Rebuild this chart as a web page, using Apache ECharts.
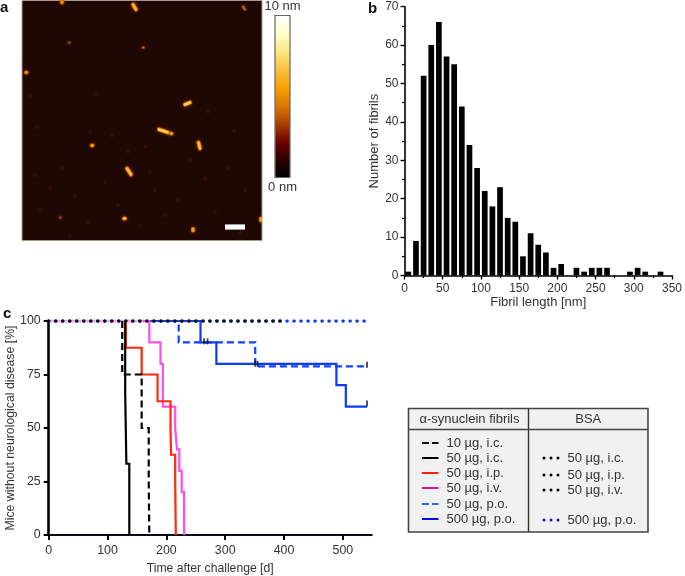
<!DOCTYPE html>
<html><head><meta charset="utf-8">
<style>html,body{margin:0;padding:0;background:#fff}#c{width:685px;height:576px}</style>
<script src="https://cdn.jsdelivr.net/npm/echarts@6/dist/echarts.min.js"></script>
</head><body><div id="c"></div>
<script>
// ---- panel a: AFM image (image px units); [x1,y1,x2,y2,height nm]
var fibrils = [
  [62,0,62,2,5],[133,4,136,9,6.2],[243,6,245,9,4],[69,42,69.5,42,3],[143,47,143.5,47,4.2],
  [26,72,26.5,72,5.2],[185,104,190,102,7.2],[159,129,168,132,7.2],[171,133,171.5,133,5.6],
  [198.5,142,200,148,6.6],[92,145,92.5,145,5.6],[127,168,131,174,6.6],[124,218,125,218,6.6],
  [193,228.5,193,230,5.8],[261,218,261,220,5.6],[60,217,60.5,217,2.8]
];
var scaleBar = [[225,226.5,245,226.5]];
var faintSpecks = [[37,127],[90,132],[112,135],[128,151],[62,167],[208,111],[234,130],[145,146],[30,96],[96,93],
  [50,188],[75,195],[105,182],[118,205],[155,190],[178,200],[205,178],[228,168],[245,190],[40,210],[88,222],[140,225],[165,215],[215,212],[240,232],[70,235],[35,175],[150,172],[190,160]];
var colorStops = ['#000000','#2a0000','#6e0000','#a84000','#d87800','#f8a000','#fcc040','#ffe680','#ffffc8','#ffffff'];
// ---- panel b: histogram
var lengthBins = [5,15,25,35,45,55,65,75,85,95,105,115,125,135,145,155,165,175,185,195,205,225,235,245,255,265,295,305,315,335];
var fibrilCounts = [1,9,52,60,66,57,55,44,34,28,22,18,23,15,14,5,11,8,6,2,3,2,1,2,2,2,1,2,1,1];
// ---- panel c: survival curves, [day, percent] at each event
var dashed10ic = [[125,100],[125,75],[158,50],[170,25],[171,0]];
var solid50ic = [[130,100],[130,66.7],[132,33.3],[137,0]];
var red50ip = [[131,100],[131,87.5],[158,75],[185,62.5],[207,50],[208,37.5],[215,25],[216,0]];
var magenta50iv = [[160,100],[171,90],[190,80],[194,60],[215,50],[218,40],[222,30],[226,20],[230,0]];
var blueDash50po = [[171,100],[221,90],[351,78.8],[541,78.8]];
var blue500po = [[171,100],[258,90],[285,80],[489,70],[505,60],[541,60]];
var bsa500po = [[0,100],[541,100]];
var bsa50 = [[0,100],[400,100]];
var pinkDots = [[0,100],[171,100]];
var censorTicks = [[150,101],[192,101],[400,101],[541,101],[264,90.5],[270,90.5],[351,80],[355,80],[541,79.5],[541,61.5]];
var survivalXTicks = [0,100,200,300,400,500];
// ---- key table
var keyLeftHead = '\u03b1-synuclein fibrils', keyRightHead = 'BSA';
var keyLeft = [
  ['10 \u00b5g, i.c.','#111',[7,3]],['50 \u00b5g, i.c.','#000',null],['50 \u00b5g, i.p.','#ff1a1a',null],
  ['50 \u00b5g, i.v.','#e0108c',null],['50 \u00b5g, p.o.','#2a62ff',[7,3]],['500 \u00b5g, p.o.','#0010ee',null]];
var keyLeftY = [443,458,473,488,504,519];
var keyRight = [['50 \u00b5g, i.c.','#000'],['50 \u00b5g, i.p.','#000'],['50 \u00b5g, i.v.','#000'],['500 \u00b5g, p.o.','#0a14ee']];
var keyRightY = [458,475,490,520];

var FONT = '"Liberation Sans", Arial, sans-serif', GREY = '#333';
function kmSeries(data, color, dash, z){
  return {type:'line', xAxisIndex:2, yAxisIndex:2, data:data, step:'end', symbol:'none', z:z||3, silent:true,
    lineStyle:{color:color, width:2.2, type:dash||'solid', cap:'butt', join:'miter'}};
}
function dotSeries(data, color, z, off){
  return {type:'line', xAxisIndex:2, yAxisIndex:2, data:data, symbol:'none', z:z, silent:true,
    lineStyle:{color:color, width:3.6, type:[0.01,7], dashOffset:off||0, cap:'round'}};
}
var axisCommon = function(){ return {
  axisLine:{show:true, onZero:false, lineStyle:{color:'#000', width:1.6}},
  axisTick:{show:true, length:4, lineStyle:{color:'#000', width:1.4}},
  axisLabel:{color:GREY, fontFamily:FONT, fontSize:12, margin:6},
  splitLine:{show:false},
  nameTextStyle:{color:GREY, fontFamily:FONT, fontSize:13}
};};
function ax(o){ return Object.assign(axisCommon(), o); }

var graphics = [];
function label(t,x,y){ graphics.push({type:'text', x:x, y:y, style:{text:t, fontFamily:FONT, fontWeight:'bold', fontSize:15, fill:'#111', textVerticalAlign:'middle'}}); }
label('a',0,8); label('b',368,9); label('c',3,314);
graphics.push({type:'rect', z:20, shape:{x:275,y:15.5,width:15,height:162}, style:{fill:'none', stroke:'#666', lineWidth:1.2}});
var T = {x0:408.5,y0:408.5,x1:648,y1:532,mid:528.5,head:429.5};
var kw = {fontFamily:FONT, fontSize:13, fill:'#333'};
graphics.push({type:'rect', shape:{x:T.x0,y:T.y0,width:T.x1-T.x0,height:T.y1-T.y0}, style:{fill:'#f1f1f1', stroke:'#444', lineWidth:1.6}});
graphics.push({type:'line', shape:{x1:T.mid,y1:T.y0,x2:T.mid,y2:T.y1}, style:{stroke:'#333', lineWidth:1.4}});
graphics.push({type:'line', shape:{x1:T.x0,y1:T.head,x2:T.x1,y2:T.head}, style:{stroke:'#444', lineWidth:1.4}});
graphics.push({type:'text', x:(T.x0+T.mid)/2+1, y:419.5, style:Object.assign({text:keyLeftHead, textAlign:'center', textVerticalAlign:'middle'}, kw)});
graphics.push({type:'text', x:(T.mid+T.x1)/2, y:419.5, style:Object.assign({text:keyRightHead, textAlign:'center', textVerticalAlign:'middle'}, kw)});
keyLeft.forEach(function(r,i){ var y=keyLeftY[i];
  graphics.push({type:'line', shape:{x1:422,y1:y,x2:438.5,y2:y}, style:{stroke:r[1], lineWidth:2, lineDash:r[2]||null}});
  graphics.push({type:'text', x:446.5, y:y, style:Object.assign({text:r[0], textVerticalAlign:'middle'}, kw)});
});
keyRight.forEach(function(r,i){ var y=keyRightY[i];
  [544,551,558].forEach(function(x){ graphics.push({type:'circle', shape:{cx:x,cy:y,r:1.5}, style:{fill:r[1]}}); });
  graphics.push({type:'text', x:567.5, y:y, style:Object.assign({text:r[0], textVerticalAlign:'middle'}, kw)});
});

var chart = echarts.init(document.getElementById('c'), null, {renderer:'canvas'});
chart.setOption({
  animation:false, backgroundColor:'#fff',
  grid:[
    {left:22, top:0.5, width:240, height:240, show:true, backgroundColor:'#1f0804', borderColor:'#a89a8a', borderWidth:1},
    {left:404.5, top:6.7, width:270.5, height:268.8},
    {left:48.7, top:321, width:323, height:214.7}
  ],
  xAxis:[
    {gridIndex:0, type:'value', min:22, max:262, show:false},
    ax({gridIndex:1, type:'value', min:0, max:350, interval:50, name:'Fibril length [nm]', nameLocation:'middle', nameGap:20,
        axisLabel:{color:GREY, fontFamily:FONT, fontSize:12, margin:7},
        minorTick:{show:true, splitNumber:2, length:2.5, lineStyle:{color:'#000', width:1.2}}}),
    ax({gridIndex:2, type:'value', min:0, max:549, interval:100, name:'Time after challenge [d]', nameLocation:'middle', nameGap:28,
        nameTextStyle:{color:GREY, fontFamily:FONT, fontSize:12.2},
        axisLine:{show:true, onZero:false, lineStyle:{color:'#0a0a20', width:2.2}},
        axisTick:{show:true, length:5, customValues:survivalXTicks, lineStyle:{color:'#000', width:2}},
        axisLabel:{color:GREY, fontFamily:FONT, fontSize:12.4, margin:10, customValues:survivalXTicks}})
  ],
  yAxis:[
    {gridIndex:0, type:'value', min:0, max:240, inverse:true, show:false},
    ax({gridIndex:1, type:'value', min:0, max:70, interval:10, name:'Number of fibrils', nameLocation:'middle', nameGap:24,
        minorTick:{show:true, splitNumber:2, length:2.5, lineStyle:{color:'#000', width:1.2}}}),
    ax({gridIndex:2, type:'value', min:0, max:100, interval:25, name:'Mice without neurological disease [%]', nameLocation:'middle', nameGap:32,
        axisLine:{show:true, onZero:false, lineStyle:{color:'#000', width:2.6}},
        axisTick:{show:true, length:5, lineStyle:{color:'#000', width:2}},
        axisLabel:{color:GREY, fontFamily:FONT, fontSize:12.4, margin:8},
        nameTextStyle:{color:GREY, fontFamily:FONT, fontSize:12.3}})
  ],
  visualMap:{type:'continuous', seriesIndex:0, dimension:4, min:0, max:10, calculable:false, realtime:false,
    orient:'vertical', left:264.5, top:0, itemWidth:15, itemHeight:162, text:['10 nm','0 nm'], textGap:3, padding:0,
    textStyle:{color:GREY, fontFamily:FONT, fontSize:13}, inRange:{color:colorStops}},
  graphic:graphics,
  series:[
    {type:'custom', xAxisIndex:0, yAxisIndex:0, data:fibrils, silent:true, z:3, encode:{x:[0,2], y:[1,3]}, clip:true,
      renderItem:function(p,api){
        var a=api.coord([api.value(0),api.value(1)]), b=api.coord([api.value(2),api.value(3)]);
        var c=api.visual('color'), h=api.value(4);
        var w = h<5?2:3.2;
        return {type:'group', children:[
          {type:'line', shape:{x1:a[0],y1:a[1],x2:b[0],y2:b[1]}, style:{stroke:'#c86000', lineWidth:w+1, lineCap:'round', opacity:h<5?0.55:1, shadowBlur:3, shadowColor:'#a04000'}},
          {type:'line', shape:{x1:a[0],y1:a[1],x2:b[0],y2:b[1]}, style:{stroke:c, lineWidth:w-0.6, lineCap:'round'}}
        ]};
      }},
    {type:'scatter', xAxisIndex:0, yAxisIndex:0, data:faintSpecks, symbolSize:4, silent:true, z:2, itemStyle:{color:'#3a1008', opacity:0.7}},
    {type:'custom', xAxisIndex:0, yAxisIndex:0, data:scaleBar, silent:true, z:4, encode:{x:[0,2], y:[1,3]},
      renderItem:function(p,api){
        var a=api.coord([api.value(0),api.value(1)]), b=api.coord([api.value(2),api.value(3)]);
        return {type:'line', shape:{x1:a[0],y1:a[1],x2:b[0],y2:b[1]}, style:{stroke:'#fff', lineWidth:5.2}};
      }},
    {type:'bar', xAxisIndex:1, yAxisIndex:1, barWidth:5.7, silent:true,
      data:lengthBins.map(function(x,i){return [x,fibrilCounts[i]];}), itemStyle:{color:'#000'}},
    dotSeries(pinkDots,'#f6a8ea',1,3.5),
    dotSeries(bsa500po,'#1038f0',2),
    dotSeries(bsa50,'#111',6),
    kmSeries(blueDash50po,'#1240ff',[7,4],3),
    kmSeries(blue500po,'#0a3cf5',null,3),
    kmSeries(magenta50iv,'#ff4cec',null,3),
    kmSeries(red50ip,'#ff2a0a',null,4),
    kmSeries(dashed10ic,'#000',[7,4],5),
    kmSeries(solid50ic,'#000',null,5),
    {type:'scatter', xAxisIndex:2, yAxisIndex:2, data:censorTicks, symbol:'rect', symbolSize:[1.8,6], z:7, silent:true, itemStyle:{color:'#111'}}
  ]
});
</script></body></html>
